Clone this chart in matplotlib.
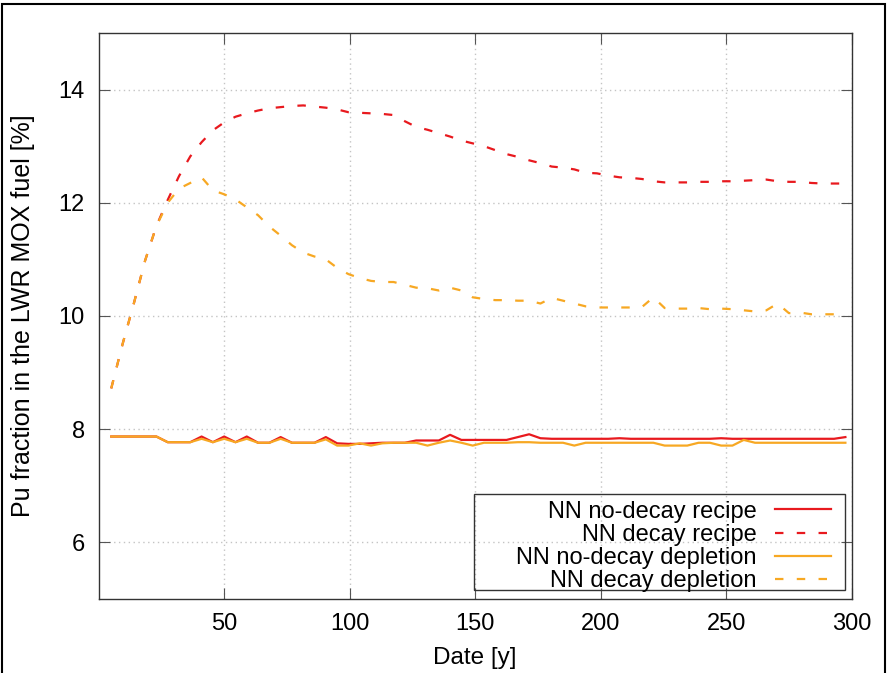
import matplotlib.pyplot as plt
from matplotlib.patches import Rectangle

# fechas (anos) de cada punto
years = [5, 9.5, 14, 18.5, 23, 27.5, 32, 36.5, 41, 45.5,
         50, 54.5, 59, 63.5, 68, 72.5, 77, 81.5, 86, 90.5,
         95, 99.5, 104, 108.5, 113, 117.5, 122, 126.5, 131, 135.5,
         140, 144.5, 149, 153.5, 158, 162.5, 167, 171.5, 176, 180.5,
         185, 189.5, 194, 198.5, 203, 207.5, 212, 216.5, 221, 225.5,
         230, 234.5, 239, 243.5, 248, 252.5, 257, 261.5, 266, 270.5,
         275, 279.5, 284, 288.5, 293, 297.5]

# NN no-decay recipe
nodecay_recipe = [7.87, 7.87, 7.87, 7.87, 7.87, 7.77, 7.77, 7.77, 7.87, 7.77,
                  7.87, 7.77, 7.87, 7.76, 7.76, 7.86, 7.76, 7.76, 7.76, 7.86,
                  7.75, 7.74, 7.74, 7.75, 7.76, 7.76, 7.76, 7.80, 7.80, 7.80,
                  7.90, 7.81, 7.81, 7.81, 7.81, 7.81, 7.86, 7.91, 7.84, 7.83,
                  7.83, 7.83, 7.83, 7.83, 7.83, 7.84, 7.83, 7.83, 7.83, 7.83,
                  7.83, 7.83, 7.83, 7.83, 7.84, 7.83, 7.83, 7.83, 7.83, 7.83,
                  7.83, 7.83, 7.83, 7.83, 7.83, 7.86]

# NN decay recipe
decay_recipe = [8.72, 9.50, 10.22, 10.98, 11.59, 12.05, 12.47, 12.82, 13.07, 13.28,
                13.42, 13.52, 13.58, 13.63, 13.67, 13.69, 13.71, 13.72, 13.70, 13.68,
                13.65, 13.60, 13.59, 13.58, 13.57, 13.55, 13.44, 13.34, 13.29, 13.23,
                13.17, 13.10, 13.05, 13.00, 12.93, 12.86, 12.81, 12.75, 12.70, 12.64,
                12.62, 12.59, 12.53, 12.52, 12.48, 12.45, 12.44, 12.42, 12.38, 12.36,
                12.36, 12.36, 12.37, 12.37, 12.38, 12.38, 12.39, 12.40, 12.41, 12.38,
                12.37, 12.37, 12.35, 12.34, 12.34, 12.34]

# NN no-decay depletion
nodecay_depletion = [7.87, 7.87, 7.87, 7.87, 7.87, 7.77, 7.77, 7.77, 7.83, 7.77,
                     7.83, 7.77, 7.83, 7.76, 7.76, 7.83, 7.76, 7.76, 7.76, 7.82,
                     7.71, 7.71, 7.75, 7.71, 7.75, 7.76, 7.76, 7.76, 7.71, 7.76,
                     7.80, 7.76, 7.71, 7.76, 7.76, 7.76, 7.77, 7.77, 7.76, 7.76,
                     7.76, 7.71, 7.76, 7.76, 7.76, 7.76, 7.76, 7.76, 7.76, 7.71,
                     7.71, 7.71, 7.76, 7.76, 7.71, 7.71, 7.81, 7.76, 7.76, 7.76,
                     7.76, 7.76, 7.76, 7.76, 7.76, 7.76]

# NN decay depletion
decay_depletion = [8.72, 9.50, 10.22, 10.98, 11.59, 12.00, 12.25, 12.35, 12.45, 12.22,
                   12.15, 12.06, 11.92, 11.78, 11.58, 11.42, 11.25, 11.12, 11.05, 11.00,
                   10.85, 10.74, 10.67, 10.62, 10.60, 10.60, 10.55, 10.50, 10.49, 10.45,
                   10.50, 10.45, 10.33, 10.30, 10.28, 10.28, 10.27, 10.27, 10.22, 10.32,
                   10.27, 10.22, 10.17, 10.15, 10.15, 10.15, 10.15, 10.16, 10.33, 10.14,
                   10.13, 10.13, 10.14, 10.12, 10.13, 10.12, 10.10, 10.08, 10.10, 10.22,
                   10.05, 10.06, 10.03, 10.03, 10.03, 10.01]

red = '#e8191e'
orange = '#f7a823'
dash = (3.8, 6)

plt.rcParams['font.family'] = ['Liberation Sans', 'DejaVu Sans']

fig = plt.figure(figsize=(8.89, 6.73), dpi=100)
ax = fig.add_axes([0.111, 0.110, 0.847, 0.841])

ax.plot(years, nodecay_recipe, color=red, lw=1.6, label='NN no-decay recipe')
ax.plot(years, decay_recipe, color=red, lw=1.6, dashes=dash, label='NN decay recipe')
ax.plot(years, nodecay_depletion, color=orange, lw=1.6, label='NN no-decay depletion')
ax.plot(years, decay_depletion, color=orange, lw=1.6, dashes=dash, label='NN decay depletion')

ax.set_xlim(0, 300)
ax.set_ylim(5, 15)
ax.set_xticks([50, 100, 150, 200, 250, 300])
ax.set_yticks([6, 8, 10, 12, 14])
ax.grid(True, color='#c4c4c4', linestyle=(0, (1, 2.5)), lw=1.0)
ax.tick_params(direction='in', length=8, color='#555555', labelsize=17, pad=10,
               top=True, right=True)
for s in ax.spines.values():
    s.set_color('#333333')
    s.set_linewidth(1.0)

ax.set_xlabel('Date [y]', fontsize=17.5, labelpad=9)
ax.set_ylabel('Pu fraction in the LWR MOX fuel [%]', fontsize=18, labelpad=17)

# leyenda sin marco, el marco se dibuja aparte (mas ancho, estilo gnuplot)
leg = ax.legend(loc='lower right', bbox_to_anchor=(0.973, 0.012), borderaxespad=0,
                markerfirst=False, fontsize=17, frameon=False,
                labelspacing=0.05, handlelength=2.4,
                handletextpad=0.75, borderpad=0.0)
ax.add_patch(Rectangle((0.498, 0.016), 0.493, 0.1695, transform=ax.transAxes,
                       fill=False, edgecolor='#333333', lw=1.0, zorder=5))

# marco negro alrededor de la figura
fig.patches.append(Rectangle((0.002, -0.01), 0.994, 1.004, transform=fig.transFigure,
                             fill=False, edgecolor='black', lw=1.5))

fig.savefig('out.png', dpi=100)
